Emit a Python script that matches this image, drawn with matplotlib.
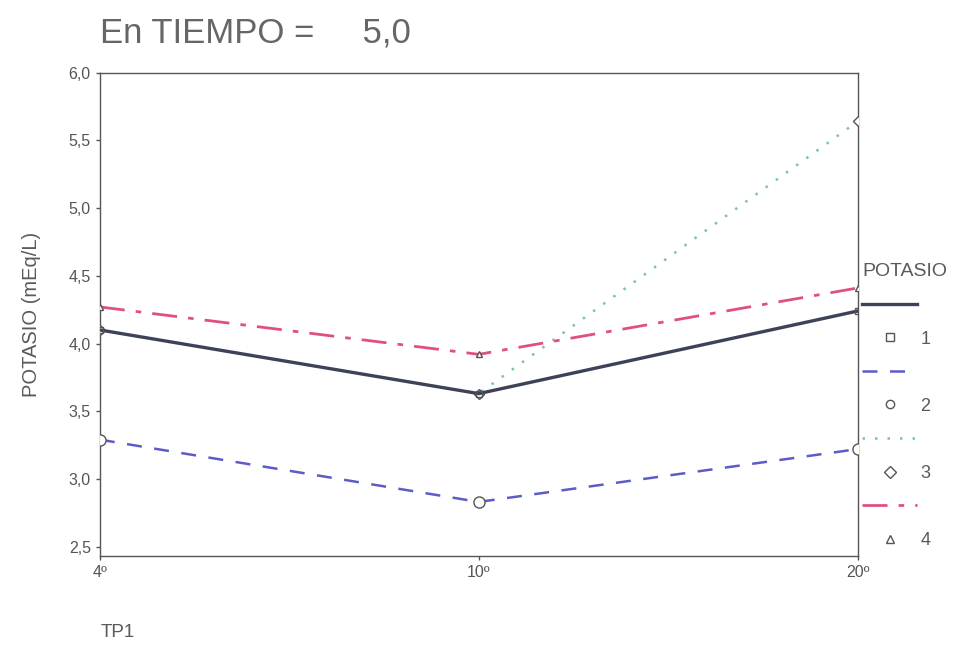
import numpy as np
import matplotlib
matplotlib.use("Agg")
import matplotlib.pyplot as plt
from matplotlib.lines import Line2D

plt.rcParams['font.family'] = ['Liberation Sans', 'DejaVu Sans']

# datos
tp1_labels = ["4º", "10º", "20º"]
serie_1 = [4.10, 3.63, 4.24]
serie_2 = [3.29, 2.83, 3.22]
serie_3 = [4.10, 3.63, 5.64]
serie_4 = [4.27, 3.92, 4.41]
serie_names = ["1", "2", "3", "4"]
y_ticks = [2.5, 3.0, 3.5, 4.0, 4.5, 5.0, 5.5, 6.0]

estilos = [
    dict(color="#3d4258", ls="-", lw=2.4, marker="s", mfc="none", ms=5),
    dict(color="#5c5cc8", ls=(0, (6, 5)), lw=1.8, marker="o", mfc="white", ms=8),
    dict(color="#7cc4a4", ls=(0, (1, 4)), lw=1.8, marker="D", mfc="white", ms=5),
    dict(color="#e0507c", ls=(0, (9, 4, 2, 4)), lw=2.0, marker="^", mfc="white", ms=5),
]

fig = plt.figure(figsize=(9.79, 6.55), dpi=100)
ax = fig.add_axes([0.102, 0.151, 0.774, 0.738])

x = np.arange(len(tp1_labels))
series = [serie_1, serie_2, serie_3, serie_4]
# dibujar 3 primero, luego el resto encima
for i in [2, 1, 3, 0]:
    st = estilos[i]
    ax.plot(x, series[i], color=st["color"], ls=st["ls"], lw=st["lw"],
            marker=st["marker"], mfc=st["mfc"], mec="#555555", ms=st["ms"],
            mew=1.0, zorder=3)

ax.set_xlim(0, 2)
ax.set_ylim(2.43, 6.0)
ax.set_xticks(x)
ax.set_xticklabels(tp1_labels)
ax.set_yticks(y_ticks)
ax.set_yticklabels([f"{v:.1f}".replace(".", ",") for v in y_ticks])
ax.tick_params(colors="#555555", labelsize=11.5, length=3, width=1)
for sp in ax.spines.values():
    sp.set_color("#555555")
    sp.set_linewidth(1.0)

ax.set_ylabel("POTASIO (mEq/L)", fontsize=14.5, color="#5a5a5a", labelpad=20)
fig.text(0.103, 0.028, "TP1", fontsize=13.5, color="#5a5a5a")
fig.text(0.102, 0.935, "En TIEMPO =     5,0", fontsize=25, color="#666666")

# leyenda: muestra de linea y luego marcador con etiqueta
handles = []
labels = []
for i, st in enumerate(estilos):
    handles.append(Line2D([], [], color=st["color"], ls=st["ls"], lw=st["lw"]))
    labels.append("")
    handles.append(Line2D([], [], ls="none", marker=st["marker"], mfc="none",
                          mec="#555555", ms=6))
    labels.append(serie_names[i])
leg = fig.legend(handles, labels, title="POTASIO", loc="upper left",
                 bbox_to_anchor=(0.881, 0.598), frameon=False, fontsize=13,
                 title_fontsize=14, handlelength=3.0, handletextpad=0.2,
                 labelspacing=0.92, borderaxespad=0, borderpad=0)
leg.get_title().set_color("#5a5a5a")
leg._legend_box.align = "left"
for t in leg.get_texts():
    t.set_color("#5a5a5a")

fig.savefig("out.png", dpi=100)
